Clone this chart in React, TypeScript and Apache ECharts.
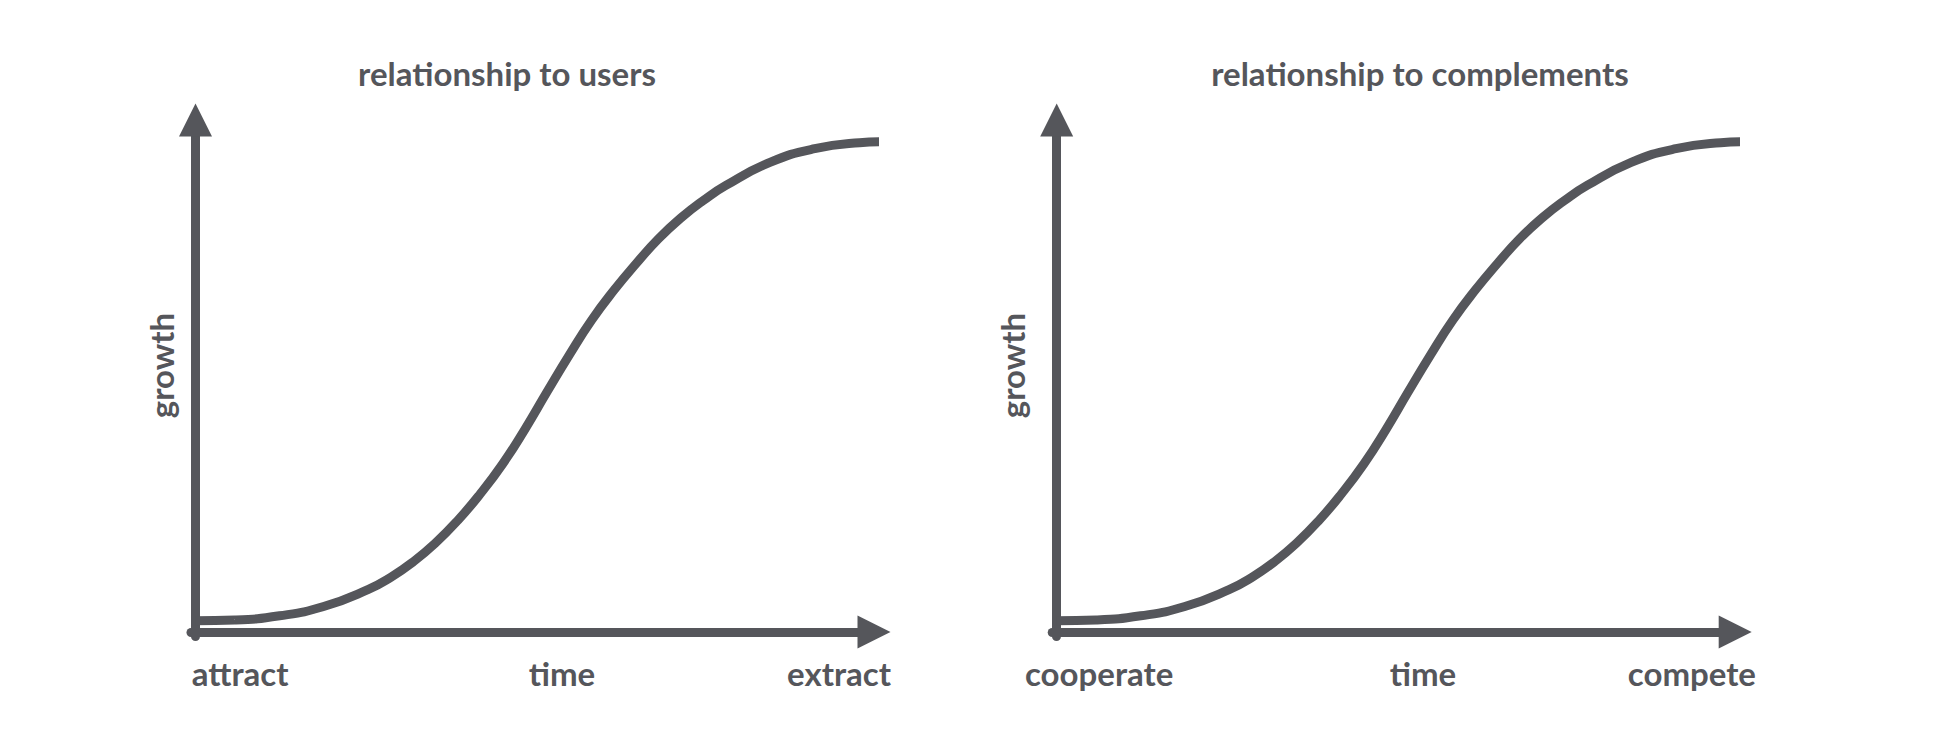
import React, { useEffect, useRef } from "react";
import * as echarts from "echarts";

// Curve: x = time (0 at the y-axis, 100 at the curve end), y = growth (100 at the curve end)
const timeUsers = [0, 5.7, 12.2, 18.6, 25.1, 28.4, 31.6, 34.8, 38.1, 41.3, 44.6, 47.8, 51.0, 54.3, 57.5, 60.8, 64.0, 67.2, 70.5, 73.7, 77.0, 83.4, 89.9, 96.4, 100];
const growthUsers = [2.3, 2.45, 3.3, 5.2, 8.7, 11.2, 14.3, 18.1, 22.8, 28.1, 34.3, 41.3, 48.9, 56.6, 63.6, 69.8, 75.2, 80.2, 84.5, 88.0, 91.1, 95.8, 98.6, 99.8, 100];
const timeComplements = [0, 5.7, 12.2, 18.6, 25.1, 28.4, 31.6, 34.8, 38.1, 41.3, 44.6, 47.8, 51.0, 54.3, 57.5, 60.8, 64.0, 67.2, 70.5, 73.7, 77.0, 83.4, 89.9, 96.4, 100];
const growthComplements = [2.3, 2.45, 3.3, 5.2, 8.7, 11.2, 14.3, 18.1, 22.8, 28.1, 34.3, 41.3, 48.9, 56.6, 63.6, 69.8, 75.2, 80.2, 84.5, 88.0, 91.1, 95.8, 98.6, 99.8, 100];

const panelTitles = ["relationship to users", "relationship to complements"];
const xStartLabels = ["attract", "cooperate"];
const xEndLabels = ["extract", "compete"];
const xAxisName = "time";
const yAxisName = "growth";

const INK = "#55565b";
const FONT = "Lato";

export default function App() {
  const ref = useRef<HTMLDivElement>(null);

  useEffect(() => {
    if (!ref.current) return;
    const chart = echarts.init(ref.current, undefined, { renderer: "svg" });

    // layout constants (pixels)
    const LW = 9;
    const half = LW / 2;
    const gridTop = 120;
    const axisY = 632;
    const axisX0 = [195.5, 1056.7];
    const axisEndX = [874, 1735.2];
    const curveEndPx = 884.3 - 195.5;
    const curveTopPx = axisY - 141.8;
    const xPerUnit = curveEndPx / 100;
    const yPerUnit = curveTopPx / 100;

    const grids = axisX0.map((x0, i) => ({
      left: x0 - half,
      top: gridTop,
      width: axisEndX[i] - (x0 - half),
      height: axisY + half - gridTop,
    }));

    const axisCommon = {
      axisTick: { show: false },
      axisLabel: { show: false },
      splitLine: { show: false },
    };

    const xAxes = axisX0.map((x0, i) => ({
      type: "value",
      gridIndex: i,
      min: -half / xPerUnit,
      max: (axisEndX[i] - x0) / xPerUnit,
      axisLine: {
        show: true,
        onZero: true,
        symbol: ["none", "triangle"],
        symbolSize: [33, 33],
        lineStyle: { color: INK, width: LW },
      },
      ...axisCommon,
    }));

    const yAxes = axisX0.map((_, i) => ({
      type: "value",
      gridIndex: i,
      min: -half / yPerUnit,
      max: (axisY - gridTop) / yPerUnit,
      axisLine: {
        show: true,
        onZero: true,
        symbol: ["none", "triangle"],
        symbolSize: [33, 33],
        lineStyle: { color: INK, width: LW },
      },
      ...axisCommon,
    }));

    const mk = (xs: number[], ys: number[]) => xs.map((x, k) => [x, ys[k]]);

    const series = [
      { xs: timeUsers, ys: growthUsers },
      { xs: timeComplements, ys: growthComplements },
    ].map((s, i) => ({
      type: "line",
      xAxisIndex: i,
      yAxisIndex: i,
      data: mk(s.xs, s.ys),
      smooth: 0.5,
      clip: false,
      symbol: "none",
      lineStyle: { color: INK, width: LW, cap: "butt" },
      z: 3,
    }));

    const textStyle = (extra: any) => ({
      fill: INK,
      font: `bold 33px ${FONT}`,
      ...extra,
    });

    const graphics: any[] = [];
    const titleX = [507, 1420];
    const growthX = [161, 1012];
    const startX = [191.7, 1025];
    const timeX = [562, 1423];
    const endX = [891, 1756];
    const labelY = 673;
    for (let i = 0; i < 2; i++) {
      graphics.push({
        type: "text",
        x: titleX[i],
        y: 73,
        style: textStyle({ text: panelTitles[i], align: "center", verticalAlign: "middle" }),
      });
      graphics.push({
        type: "text",
        x: growthX[i],
        y: 365.5,
        rotation: Math.PI / 2,
        style: textStyle({ text: yAxisName, align: "center", verticalAlign: "middle" }),
      });
      graphics.push({
        type: "text",
        x: startX[i],
        y: labelY,
        style: textStyle({ text: xStartLabels[i], align: "left", verticalAlign: "middle" }),
      });
      graphics.push({
        type: "text",
        x: timeX[i],
        y: labelY,
        style: textStyle({ text: xAxisName, align: "center", verticalAlign: "middle" }),
      });
      graphics.push({
        type: "text",
        x: endX[i],
        y: labelY,
        style: textStyle({ text: xEndLabels[i], align: "right", verticalAlign: "middle" }),
      });
    }

    chart.setOption({
      animation: false,
      backgroundColor: "#ffffff",
      grid: grids,
      xAxis: xAxes,
      yAxis: yAxes,
      series,
      graphic: graphics,
    });

    return () => chart.dispose();
  }, []);

  return (
    <div
      ref={ref}
      style={{ position: "absolute", left: 0, top: 0, width: 1946, height: 730 }}
    />
  );
}
